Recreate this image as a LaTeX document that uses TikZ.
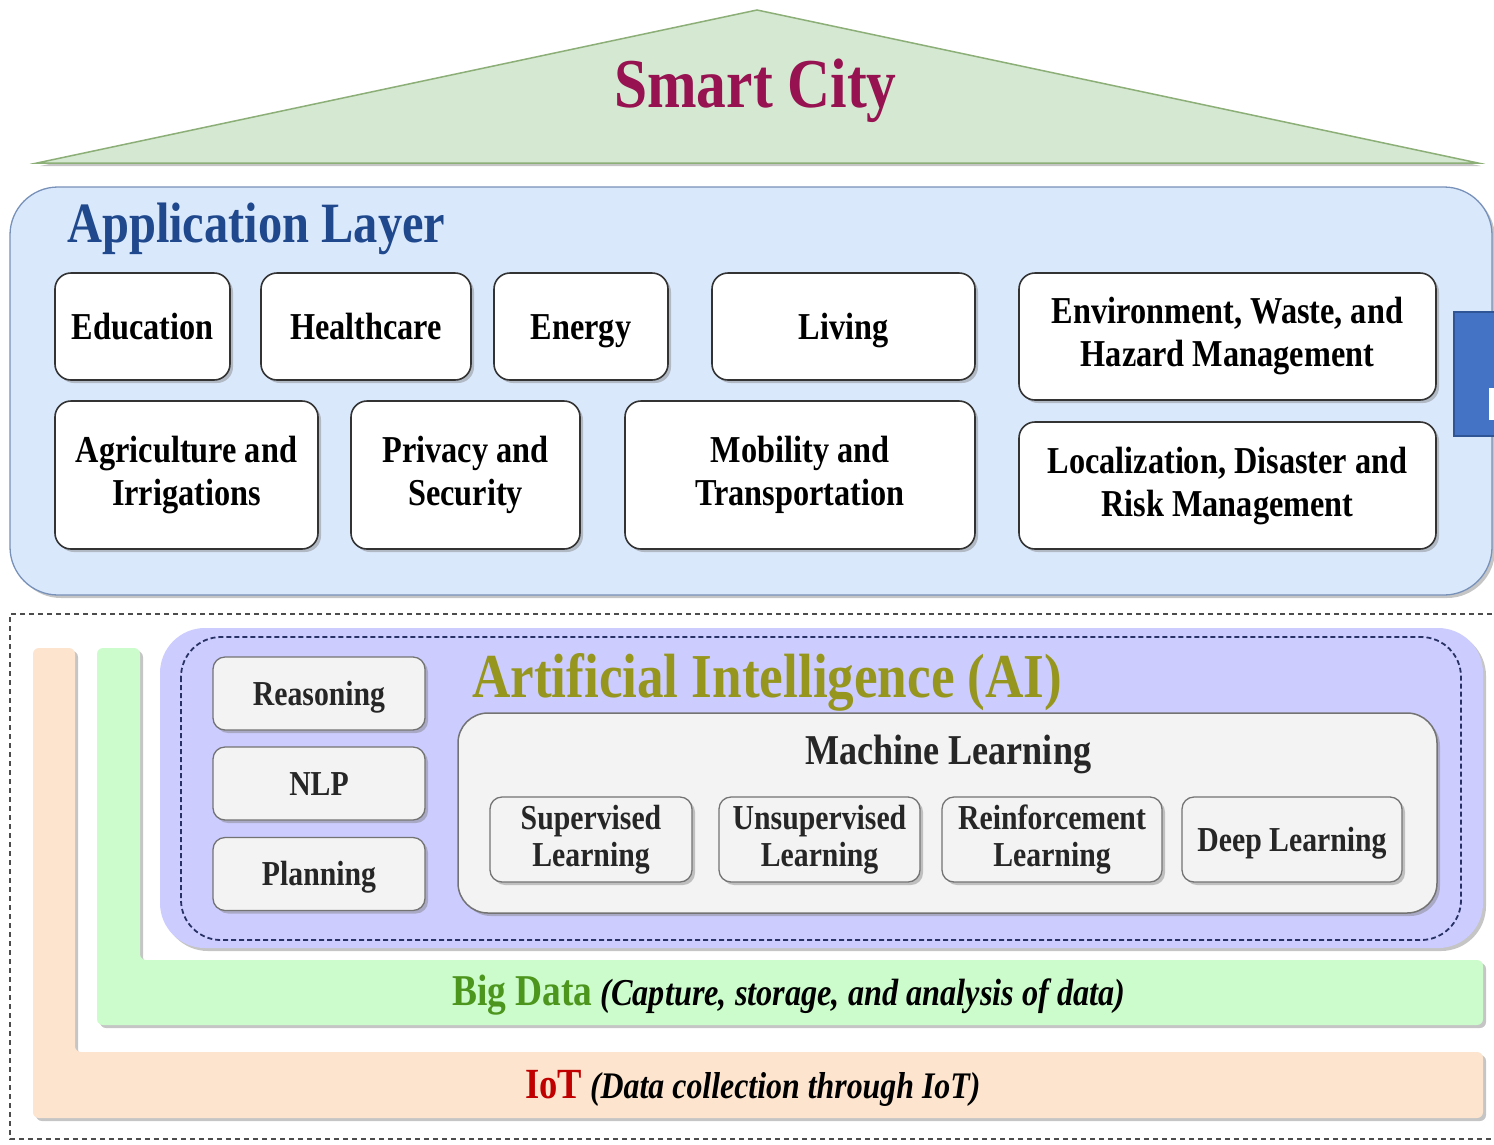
\documentclass[tikz,border=0pt]{standalone}
\usepackage{fontspec}
\setmainfont{Liberation Serif}[FakeStretch=0.85]
\usetikzlibrary{shadows}
\definecolor{roof}{RGB}{213,232,210}
\definecolor{roofline}{RGB}{140,175,120}
\definecolor{citycol}{RGB}{150,18,80}
\definecolor{appfill}{RGB}{218,232,252}
\definecolor{appline}{RGB}{120,145,185}
\definecolor{apptitle}{RGB}{31,73,140}
\definecolor{iotfill}{RGB}{252,228,206}
\definecolor{bdfill}{RGB}{204,252,204}
\definecolor{aifill}{RGB}{204,204,255}
\definecolor{aititle}{RGB}{150,150,30}
\definecolor{aidash}{RGB}{40,50,100}
\definecolor{boxgray}{RGB}{243,243,243}
\definecolor{bdtitle}{RGB}{77,150,30}
\definecolor{iottitle}{RGB}{192,0,0}
\definecolor{pblue}{RGB}{68,114,196}
\definecolor{pblueline}{RGB}{47,85,151}
\tikzset{
  shad/.style={drop shadow={shadow xshift=3pt, shadow yshift=-3pt, opacity=0.45}},
  appbox/.style={draw=black!80, line width=1.6pt, fill=white, rounded corners=16pt,
    align=center, inner sep=0pt, font=\bfseries\fontsize{38}{43}\selectfont, shad},
  appone/.style={appbox, text height=26pt, text depth=0pt},
  aibox/.style={draw=black!55, line width=1.3pt, fill=boxgray, rounded corners=12pt,
    align=center, inner sep=0pt, text=black!85, font=\bfseries\fontsize{35}{37}\selectfont, shad},
  aione/.style={aibox, text height=23pt, text depth=0pt},
  ttl/.style={anchor=base west, inner sep=0pt, font=\bfseries}
}
\begin{document}
\begin{tikzpicture}[x=1pt,y=-1pt]
\useasboundingbox (0,0) rectangle (1494,1144);
\fill[white] (0,0) rectangle (1494,1144);
% roof
\draw[fill=roof, draw=roofline, line width=1.5pt, shad] (37,163) -- (757,10) -- (1478,163) -- cycle;
\node[ttl, text=citycol, font=\bfseries\fontsize{70}{70}\selectfont] (city) at (614,107) {Smart City};
% application layer
\draw[fill=appfill, draw=appline, line width=1.3pt, rounded corners=48pt, shad] (10,187) rectangle (1492,595);
\node[ttl, text=apptitle, font=\bfseries\fontsize{57}{57}\selectfont] (apptitle) at (67,242) {Application Layer};
\node[appone, minimum width=175pt, minimum height=107pt] (edu) at (142.5,326.5) {Education};
\node[appone, minimum width=210pt, minimum height=107pt] (health) at (366,326.5) {Healthcare};
\node[appone, minimum width=174pt, minimum height=107pt] (energy) at (581,326.5) {Energy};
\node[appone, minimum width=263pt, minimum height=107pt] (living) at (843.5,326.5) {Living};
\node[appbox, minimum width=417pt, minimum height=127pt] (env) at (1227.5,336.5) {Environment, Waste, and\\Hazard Management};
\node[appbox, minimum width=263pt, minimum height=148pt] (agri) at (186.5,475) {Agriculture and\\Irrigations};
\node[appbox, minimum width=229pt, minimum height=148pt] (priv) at (465.5,475) {Privacy and\\Security};
\node[appbox, minimum width=350pt, minimum height=148pt] (mob) at (800,475) {Mobility and\\Transportation};
\node[appbox, minimum width=417pt, minimum height=127pt] (loc) at (1227.5,485.5) {Localization, Disaster and\\Risk Management};
% partial blue box at right edge
\draw[fill=pblue, draw=pblueline, line width=1.5pt] (1454,312) rectangle (1510,436);
\fill[white] (1489,388) rectangle (1494,420);
% outer dashed frame
\draw[black!70, line width=1.4pt, dash pattern=on 5pt off 4pt] (1510,614) -- (10,614) -- (10,1139) -- (1510,1139);
% IoT L
\fill[iotfill, rounded corners=6pt, shad] (33,648) -- (75,648) -- (75,1052) -- (1483,1052) -- (1483,1118) -- (33,1118) -- cycle;
% Big data L
\fill[bdfill, rounded corners=6pt, shad] (97,648) -- (140,648) -- (140,960) -- (1483,960) -- (1483,1025) -- (97,1025) -- cycle;
% AI
\fill[aifill, rounded corners=45pt, shad] (160,628) rectangle (1483,948);
\draw[aidash, line width=1.8pt, dash pattern=on 5pt off 3pt, rounded corners=40pt] (181,637) rectangle (1461,940);
\node[ttl, text=aititle, font=\bfseries\fontsize{62.5}{62.5}\selectfont] (aititle) at (472,697) {Artificial Intelligence (AI)};
\node[aione, minimum width=212pt, minimum height=73pt] (reason) at (319,693.5) {Reasoning};
\node[aione, minimum width=212pt, minimum height=73pt] (nlp) at (319,783.5) {NLP};
\node[aione, minimum width=212pt, minimum height=73pt] (plan) at (319,874) {Planning};
\draw[fill=boxgray, draw=black!55, line width=1.5pt, rounded corners=30pt, shad] (458,713) rectangle (1437,913);
\node[ttl, text=black!85, font=\bfseries\fontsize{42.5}{42.5}\selectfont] (ml) at (805,764) {Machine Learning};
\node[aibox, minimum width=202pt, minimum height=85pt] (sup) at (591,839.5) {Supervised\\Learning};
\node[aibox, minimum width=201pt, minimum height=85pt] (unsup) at (819.5,839.5) {Unsupervised\\Learning};
\node[aibox, minimum width=220pt, minimum height=85pt] (reinf) at (1052,839.5) {Reinforcement\\Learning};
\node[aione, minimum width=220pt, minimum height=85pt] (deep) at (1292,839.5) {Deep Learning};
% Big Data and IoT labels
\node[ttl] (bd) at (452,1005) {{\color{bdtitle}\fontsize{44}{44}\selectfont Big Data}{\itshape\fontsize{38}{38}\selectfont\ (Capture, storage, and analysis of data)}};
\node[ttl] (iot) at (525,1098) {{\color{iottitle}\fontsize{43}{43}\selectfont IoT}{\itshape\fontsize{37.5}{37.5}\selectfont\ (Data collection through IoT)}};
\end{tikzpicture}
\end{document}
